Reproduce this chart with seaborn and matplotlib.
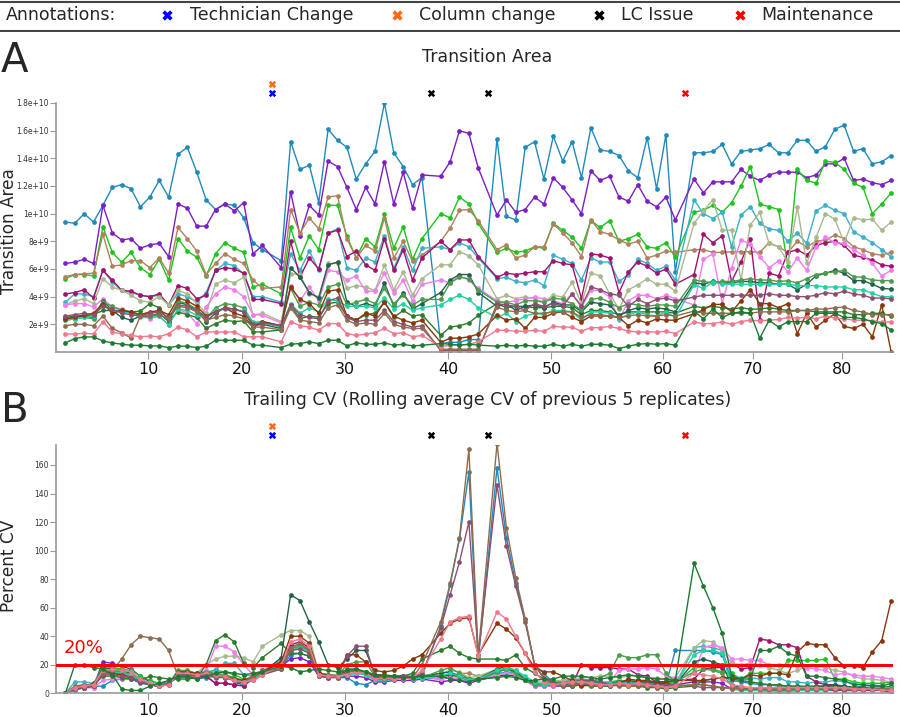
import numpy as np
import pandas as pd
import seaborn as sns
import matplotlib.pyplot as plt
import matplotlib.transforms as mtransforms

sns.set_theme(style="white")
plt.rcParams['font.family'] = ['DejaVu Sans']

# replicate slots along x (empty slots where an annotation sits)
tech_change = [23]
column_change = [23]
lc_issue = [40, 46]
maintenance = [67]

x_tick_pos = [9.8, 19.8, 30.8, 41.8, 52.8, 64.7, 74.3, 83.8]
x_tick_labels = ["10", "20", "30", "40", "50", "60", "70", "80"]
area_ticks = [2e9, 4e9, 6e9, 8e9, 1e10, 1.2e10, 1.4e10, 1.6e10, 1.8e10]
area_tick_labels = ["2e+9", "4e+9", "6e+9", "8e+9", "1e+10", "1.2e+10", "1.4e+10", "1.6e+10", "1.8e+10"]
cv_ticks = [0, 20, 40, 60, 80, 100, 120, 140, 160]

series_names = ["blue", "purple", "green", "tan", "lightblue", "magenta", "sage", "orchid",
                "darkgreen", "slate", "medgreen", "aqua", "brown", "mauve", "taupe", "pink", "bottomgreen"]
series_colors = ["#1f8bbd", "#7d1fc4", "#1cc41c", "#b0815c", "#3cb0c8", "#a3126f", "#a9b98e", "#f27cf2",
                 "#2b7d2b", "#23604d", "#4c9c4c", "#1fd3a0", "#8b3608", "#8d4f70", "#8e6c4e", "#f0788e", "#1d7a34"]

N = None
# transition area (x 1e9)
area_blue = [9.4, 9.3, 10.0, 9.4, 10.6, 11.9, 12.1, 11.8, 10.5, 11.2,
             12.4, 11.2, 14.3, 14.8, 13.0, 11.0, 10.3, 10.7, 10.6, 9.7,
             7.9, 7.4, N, 6.6, 15.2, 13.2, 13.5, 10.8, 16.1, 15.3,
             14.8, 12.5, 13.6, 14.5, 18.0, 14.4, 13.4, 12.1, 12.6, N,
             0.6, 0.7, 0.7, 0.9, 0.9, N, 15.4, 9.8, 9.55, 14.8,
             15.2, 12.5, 15.6, 13.8, 15.2, 12.6, 16.2, 14.6, 14.5, 14.2,
             13.1, 12.6, 15.5, 11.8, 15.7, 5.8, N, 14.4, 14.4, 14.5,
             15.0, 13.6, 14.5, 14.6, 14.7, 15.0, 14.4, 14.4, 15.3, 15.3,
             14.5, 14.85, 16.1, 16.4, 14.5, 14.7, 13.6, 13.75, 14.2]
area_purple = [6.4, 6.5, 6.7, 6.4, 10.6, 8.6, 8.1, 8.2, 7.5, 7.75,
               7.85, 6.9, 10.7, 10.4, 9.1, 9.1, 10.3, 10.7, 10.2, 10.8,
               7.1, 7.7, N, 6.1, 11.6, 8.4, 10.6, 9.9, 13.8, 13.4,
               11.9, 10.3, 11.9, 10.7, 13.75, 10.7, 13.0, 10.4, 12.8, N,
               12.7, 13.75, 16.0, 15.8, 13.3, N, 9.9, 11.0, 10.1, 10.3,
               11.2, 10.7, 12.6, 11.9, 11.0, 10.0, 13.1, 12.4, 12.7, 11.2,
               10.9, 12.1, 10.9, 10.5, 11.2, 9.55, N, 12.5, 11.5, 12.3,
               12.3, 12.3, 13.2, 12.7, 12.4, 12.8, 13.0, 13.0, 13.0, 12.6,
               12.8, 13.6, 13.6, 14.0, 12.4, 12.5, 12.24, 12.1, 12.4]
area_green = [5.3, 5.6, 5.6, 5.5, 9.05, 7.2, 6.5, 7.2, 6.1, 5.6,
              6.7, 5.2, 8.2, 7.3, 6.85, 5.5, 7.1, 7.9, 7.5, 7.2,
              4.7, 4.9, N, 4.2, 9.0, 6.8, 8.4, 7.4, 10.6, 10.6,
              8.35, 6.8, 8.2, 7.6, 9.96, 7.5, 9.05, 6.7, 8.2, N,
              10.0, 9.7, 11.2, 10.7, 9.3, N, 7.2, 7.5, 7.2, 7.3,
              7.6, 7.5, 9.3, 8.8, 8.3, 7.5, 9.5, 9.0, 9.5, 8.0,
              8.2, 8.5, 7.6, 7.5, 7.9, 6.84, N, 10.1, 10.25, 10.6,
              10.1, 10.8, 12.0, 13.4, 10.7, 10.5, 10.3, 6.2, 13.2, 12.4,
              12.2, 13.8, 13.7, 13.2, 12.2, 11.9, 10.0, 10.7, 11.5]
area_tan = [5.45, 5.6, 5.65, 5.7, 8.5, 6.2, 6.3, 6.6, 6.6, 6.1,
            6.8, 5.7, 9.0, 8.2, 7.3, 5.6, 6.4, 7.1, 6.7, 6.4,
            5.2, 4.6, N, 4.7, 10.3, 8.6, 9.7, 8.9, 11.2, 11.3,
            8.2, 6.8, 7.7, 7.3, 9.7, 6.8, 8.0, 6.55, 7.0, N,
            8.0, 8.95, 10.25, 10.3, 9.5, N, 7.4, 7.75, 6.8, 7.0,
            7.6, 7.6, 9.25, 8.6, 7.9, 6.9, 9.55, 8.7, 8.5, 8.1,
            7.8, 8.0, 6.8, 7.0, 7.3, 7.2, N, 7.4, 7.4, 7.2,
            7.2, 7.25, 7.25, 7.25, 7.2, 7.9, 7.6, 7.2, 8.0, 7.6,
            8.0, 8.1, 8.45, 8.2, 7.6, 7.4, 7.1, 7.0, 7.2]
area_lightblue = [3.6, 4.2, 4.2, 4.0, 5.9, 5.05, 4.45, 4.3, 4.1, 4.0,
                  4.1, 3.4, 4.2, 4.0, 3.6, 4.3, 5.9, 6.4, 6.25, 5.65,
                  4.0, 4.0, N, 3.6, 7.1, 5.9, 7.3, 5.9, 8.6, 8.9,
                  6.1, 5.9, 6.8, 6.5, 8.4, 6.05, 7.6, 5.9, 7.5, N,
                  7.6, 7.4, 7.9, 7.6, 6.8, N, 5.3, 5.4, 5.1, 5.0,
                  5.2, 4.8, 7.0, 6.7, 6.4, 5.2, 6.8, 6.5, 6.5, 5.1,
                  5.6, 6.7, 6.4, 5.9, 6.2, 5.2, N, 11.0, 10.0, 9.65,
                  10.1, 7.6, 9.9, 10.5, 9.3, 8.9, 8.8, 8.0, 8.6, 7.85,
                  10.2, 10.6, 10.25, 10.0, 8.7, 8.3, 7.9, 7.4, 6.9]
area_magenta = [4.2, 4.3, 4.5, 3.9, 5.9, 5.2, 4.45, 4.4, 4.1, 4.0,
                4.2, 3.4, 4.8, 4.6, 3.85, 4.1, 5.9, 6.1, 6.0, 5.7,
                3.8, 3.8, N, 3.5, 8.0, 5.4, 6.8, 6.0, 8.6, 8.8,
                6.9, 7.3, 6.3, 5.9, 8.2, 5.9, 7.4, 5.2, 6.8, N,
                8.0, 7.4, 8.1, 8.1, 6.9, N, 5.4, 5.7, 5.6, 5.7,
                5.8, 5.8, 6.6, 6.4, 6.3, 3.85, 7.1, 7.0, 6.8, 4.3,
                5.8, 6.5, 6.2, 5.7, 6.0, 4.9, N, 5.6, 8.5, 7.9,
                8.4, 5.1, 6.5, 8.2, 2.33, 5.7, 5.5, 7.2, 7.4, 7.0,
                7.7, 7.9, 8.0, 7.7, 7.0, 6.84, 6.65, 6.3, 6.2]
area_sage = [3.4, 3.7, 3.85, 3.5, 5.3, 4.7, 4.45, 4.1, 3.7, 3.6,
             4.0, 3.4, 4.45, 4.2, 3.5, 2.8, 4.9, 5.2, 5.0, 5.4,
             2.65, 2.8, N, 2.2, 5.65, 5.6, 4.2, 4.0, 6.4, 6.4,
             4.6, 4.8, 4.7, 4.45, 6.3, 4.5, 5.8, 4.1, 5.3, N,
             6.3, 6.3, 7.25, 6.96, 6.3, N, 3.85, 4.1, 3.85, 4.0,
             3.85, 3.6, 4.1, 3.97, 5.05, 3.5, 5.7, 5.5, 4.2, 3.1,
             4.5, 4.85, 5.3, 4.9, 4.9, 4.4, N, 9.3, 10.2, 11.0,
             8.8, 8.8, 5.2, 9.2, 10.1, 7.85, 7.6, 6.5, 10.5, 6.4,
             8.3, 10.0, 9.6, 7.9, 9.7, 9.55, 9.6, 8.8, 9.4]
area_orchid = [3.4, 3.5, 3.5, 3.25, 3.85, 3.25, 3.1, 2.9, 2.65, 2.4,
               2.6, 1.95, 3.1, 2.8, 2.05, 3.25, 4.2, 4.7, 4.5, 4.0,
               2.7, 2.65, N, 2.1, 4.8, 3.7, 4.7, 3.7, 5.9, 5.8,
               5.2, 5.5, 4.4, 4.4, 5.7, 4.25, 5.2, 3.7, 4.9, N,
               5.2, 5.0, 5.5, 5.2, 4.6, N, 3.7, 3.6, 3.7, 3.85,
               3.97, 3.85, 3.7, 3.5, 4.2, 3.25, 4.45, 4.45, 3.97, 2.3,
               3.7, 4.1, 4.1, 3.85, 4.1, 3.85, N, 3.4, 6.7, 7.1,
               3.5, 6.1, 8.1, 7.8, 6.9, 6.1, 6.6, 5.8, 6.8, 5.9,
               7.6, 8.3, 7.9, 7.85, 7.4, 7.0, 6.4, 5.5, 5.9]
area_darkgreen = [2.5, 2.6, 2.6, 2.7, 3.0, 3.0, 3.0, 2.9, 2.95, 3.5,
                  3.2, 2.3, 2.9, 2.7, 2.5, 1.7, 2.05, 2.3, 2.2, 2.25,
                  1.45, 1.45, N, 1.6, 3.4, 2.4, 2.6, 2.5, 3.5, 3.6,
                  2.6, 2.3, 2.7, 2.8, 3.6, 2.5, 3.0, 2.6, 2.7, N,
                  1.2, 1.8, 1.9, 2.1, 2.65, N, 3.5, 3.2, 3.3, 3.3,
                  3.2, 3.2, 3.3, 3.3, 3.2, 2.7, 3.0, 3.0, 2.9, 2.7,
                  2.9, 2.9, 2.9, 2.9, 2.9, 2.8, N, 3.3, 3.2, 3.3,
                  3.2, 3.1, 3.2, 3.1, 3.1, 3.2, 3.1, 3.0, 3.0, 3.0,
                  2.9, 2.9, 2.9, 2.9, 2.7, 2.7, 2.8, 2.8, 2.6]
area_slate = [2.4, 2.5, 2.6, 2.5, 3.7, 3.0, 2.5, 2.3, 2.6, 2.6,
              2.8, 2.2, 3.6, 3.4, 3.0, 2.2, 2.8, 3.2, 3.1, 2.9,
              1.9, 2.0, N, 1.7, 6.1, 5.4, 4.3, 3.9, 6.3, 6.5,
              3.6, 3.3, 3.5, 3.3, 5.0, 3.3, 4.3, 3.1, 3.5, N,
              4.3, 5.2, 5.6, 5.6, 4.3, N, 3.3, 3.5, 3.0, 3.3,
              3.4, 3.2, 3.6, 3.4, 3.4, 2.9, 3.6, 3.5, 3.4, 2.6,
              3.0, 3.2, 3.1, 3.2, 3.1, 2.9, N, 5.0, 4.9, 5.1,
              5.0, 5.0, 5.1, 5.1, 5.0, 5.0, 4.9, 4.9, 4.5, 4.9,
              5.5, 5.7, 5.9, 5.7, 5.16, 5.16, 4.9, 4.6, 4.55]
area_medgreen = [2.3, 2.4, 2.5, 2.4, 3.6, 3.3, 3.0, 2.8, 2.7, 2.8,
                 3.0, 2.4, 3.7, 3.5, 3.1, 2.4, 3.2, 3.5, 3.4, 3.2,
                 2.1, 2.2, N, 1.9, 4.6, 3.3, 3.6, 3.4, 4.7, 4.9,
                 3.4, 3.6, 3.8, 3.5, 4.6, 3.5, 4.1, 3.4, 3.8, N,
                 3.8, 5.0, 5.4, 5.3, 4.5, N, 3.6, 3.6, 3.4, 3.7,
                 3.7, 3.6, 3.9, 3.8, 3.5, 3.0, 3.8, 3.9, 3.6, 3.2,
                 3.5, 3.4, 3.3, 3.4, 3.4, 3.3, N, 5.2, 5.1, 5.0,
                 5.1, 5.1, 5.2, 5.3, 5.2, 5.2, 5.1, 5.15, 5.0, 5.3,
                 5.6, 5.7, 5.8, 5.9, 5.45, 5.4, 5.2, 5.16, 5.16]
area_aqua = [2.3, 2.4, 2.5, 2.6, 3.5, 3.0, 2.9, 2.8, 2.5, 2.5,
             2.6, 1.95, 3.1, 3.0, 2.65, 2.5, 3.0, 3.1, 3.0, 3.0,
             2.2, 2.1, N, 1.8, 3.5, 2.8, 3.2, 2.9, 3.8, 3.7,
             3.3, 3.3, 3.3, 3.2, 3.9, 3.1, 3.5, 3.0, 3.2, N,
             3.4, 3.8, 4.1, 3.8, 3.2, N, 2.5, 2.8, 2.2, 2.6,
             2.8, 2.7, 3.0, 3.0, 2.9, 2.3, 2.9, 2.9, 2.8, 2.4,
             2.7, 2.9, 2.7, 2.6, 2.9, 2.5, N, 4.85, 4.6, 5.05,
             4.9, 4.9, 4.9, 4.9, 4.9, 4.9, 4.9, 4.9, 4.8, 4.8,
             4.8, 4.7, 4.7, 4.7, 4.5, 4.5, 4.25, 4.0, 4.0]
area_brown = [2.4, 2.5, 2.7, 2.8, 3.5, 2.8, 3.0, 2.9, 2.7, 2.9,
              3.0, 2.7, 3.9, 3.7, 3.3, 2.6, 2.9, 3.2, 2.8, 2.6,
              1.8, 2.2, N, 1.9, 4.7, 3.8, 3.5, 2.8, 4.4, 4.5,
              2.6, 2.3, 2.8, 2.6, 3.6, 2.6, 2.3, 2.1, 2.3, N,
              0.7, 1.0, 1.0, 1.1, 1.3, N, 2.65, 2.3, 2.4, 1.7,
              2.5, 2.5, 2.8, 2.9, 2.5, 2.2, 2.6, 2.6, 2.6, 2.5,
              1.9, 2.3, 2.1, 2.4, 2.3, 2.3, N, 2.77, 3.05, 3.44,
              3.44, 2.9, 3.7, 4.5, 3.5, 3.5, 3.2, 3.5, 1.33, 2.8,
              1.8, 2.3, 2.77, 1.85, 1.7, 2.0, 1.1, 3.4, 0.0]
area_mauve = [2.6, 2.7, 2.8, 2.7, 3.3, 3.1, 2.8, 2.7, 2.6, 2.8,
              2.9, 2.5, 3.4, 3.3, 3.0, 2.5, 2.9, 3.2, 3.1, 2.9,
              2.0, 2.1, N, 1.9, 3.4, 2.7, 2.5, 2.4, 3.7, 3.9,
              2.5, 2.2, 2.3, 2.3, 3.0, 2.2, 2.0, 1.8, 1.9, N,
              0.1, 0.1, 0.1, 0.1, 0.1, N, 3.5, 3.4, 3.3, 3.0,
              3.5, 3.3, 3.5, 3.3, 4.2, 3.3, 4.7, 4.5, 4.2, 4.1,
              3.3, 3.8, 3.5, 3.8, 3.9, 3.7, N, 3.97, 4.1, 4.1,
              4.1, 4.1, 4.1, 4.1, 4.1, 4.2, 4.1, 4.1, 4.0, 4.0,
              4.1, 4.3, 4.2, 4.4, 4.2, 4.1, 3.9, 3.9, 3.85]
area_taupe = [1.9, 2.0, 2.0, 1.9, 2.6, 1.7, 1.4, 1.0, 2.6, 2.6,
              2.7, 2.4, 3.3, 3.2, 2.9, 2.3, 2.5, 2.7, 2.6, 2.4,
              1.8, 1.8, N, 1.6, 3.2, 2.3, 2.2, 2.1, 3.2, 3.4,
              2.3, 2.0, 2.1, 2.0, 2.8, 2.0, 1.8, 1.7, 1.7, N,
              0.2, 0.2, 0.2, 0.2, 0.2, N, 3.25, 3.0, 2.9, 3.0,
              2.8, 2.8, 2.9, 2.9, 2.9, 2.5, 2.7, 2.7, 2.6, 2.5,
              2.6, 2.7, 2.6, 2.6, 2.7, 2.6, N, 2.96, 2.8, 2.8,
              2.8, 2.8, 2.8, 2.8, 2.9, 2.9, 2.9, 2.9, 3.0, 3.0,
              3.1, 3.1, 3.2, 3.25, 3.0, 2.9, 2.7, 2.7, 2.7]
area_pink = [1.3, 1.3, 1.35, 1.3, 2.2, 1.45, 1.3, 1.2, 1.1, 1.15,
             1.1, 1.33, 1.8, 1.6, 1.1, 1.45, 1.45, 1.45, 1.45, 1.1,
             1.1, 1.1, N, 0.73, 2.2, 1.9, 1.8, 1.57, 2.05, 2.05,
             1.33, 1.2, 1.3, 1.4, 1.7, 1.33, 1.4, 1.1, 1.2, N,
             0.37, 0.5, 0.5, 0.55, 0.73, N, 1.57, 1.57, 1.5, 1.5,
             1.57, 1.5, 1.85, 1.8, 1.8, 1.5, 1.76, 1.76, 1.85, 1.7,
             1.5, 1.45, 1.45, 1.45, 1.5, 1.33, N, 2.17, 2.05, 2.05,
             2.17, 2.0, 2.2, 2.3, 2.25, 2.3, 2.35, 2.5, 2.45, 2.5,
             2.4, 2.6, 2.45, 2.4, 2.3, 2.3, 2.25, 2.17, 2.17]
area_bottomgreen = [0.66, 0.97, 1.09, 1.09, 0.8, 0.66, 0.56, 0.49, 0.49, 0.44,
                    0.44, 0.32, 0.42, 0.42, 0.32, 0.42, 0.85, 0.85, 0.85, 0.85,
                    0.49, 0.49, N, 0.32, 0.56, 0.61, 0.73, 0.61, 0.85, 0.85,
                    0.44, 0.66, 0.56, 0.56, 0.66, 0.49, 0.56, 0.44, 0.49, N,
                    0.61, 0.56, 0.5, 0.56, 0.5, N, 0.42, 0.49, 0.42, 0.49,
                    0.42, 0.42, 0.56, 0.42, 0.56, 0.42, 0.56, 0.56, 0.49, 0.25,
                    0.42, 0.56, 0.61, 0.56, 0.61, 0.49, N, 2.96, 2.4, 3.1,
                    2.5, 2.8, 2.9, 2.8, 1.0, 2.3, 1.8, 2.2, 2.2, 2.2,
                    2.8, 2.8, 2.8, 2.5, 2.5, 2.4, 2.2, 2.05, 1.6]

# trailing CV (%)
cv_blue = [0, 2, 4, 5, 5, 9, 10, 10, 7, 6,
           5, 7, 11, 11, 10, 11, 12, 12, 9, 5,
           10, 14, N, 17, 27, 28, 26, 12, 12, 11,
           11, 7, 6, 9, 10, 10, 11, 10, 12, N,
           47, 76, 108, 155, 23, N, 158, 109, 77, 52,
           20, 14, 7, 9, 9, 10, 9, 8, 7, 8,
           6, 9, 8, 7, 6, 30, N, 30, 30, 29,
           27, 9, 8, 7, 6, 6, 5, 5, 5, 4,
           5, 5, 4, 5, 4, 5, 6, 5, 3]
cv_purple = [0, 3, 4, 5, 22, 21, 19, 17, 12, 8,
             6, 7, 13, 13, 12, 12, 7, 7, 6, 8,
             11, 14, N, 19, 24, 25, 22, 12, 11, 11,
             12, 12, 11, 8, 8, 9, 9, 9, 10, N,
             8, 9, 9, 7, 9, N, 12, 13, 12, 9,
             5, 5, 5, 5, 5, 6, 6, 6, 5, 6,
             6, 6, 5, 5, 5, 6, N, 8, 8, 8,
             7, 3, 3, 3, 3, 2, 2, 2, 2, 2,
             2, 2, 2, 2, 2, 2, 2, 2, 0.5]
cv_green = [0, 4, 5, 6, 19, 18, 17, 16, 12, 9,
            7, 8, 14, 14, 13, 15, 16, 15, 13, 10,
            10, 15, N, 23, 33, 34, 31, 13, 12, 13,
            15, 16, 15, 12, 12, 12, 12, 11, 13, N,
            11, 13, 11, 9, 10, N, 13, 14, 13, 10,
            7, 6, 7, 8, 9, 9, 9, 8, 8, 9,
            8, 8, 8, 8, 8, 7, N, 18, 18, 17,
            15, 14, 10, 14, 14, 14, 14, 23, 23, 23,
            23, 24, 10, 10, 8, 7, 7, 7, 8]
cv_tan = [0, 3, 4, 4, 14, 14, 13, 12, 8, 6,
          5, 6, 15, 15, 13, 14, 13, 11, 10, 8,
          9, 13, N, 18, 32, 34, 31, 13, 12, 12,
          14, 15, 14, 10, 10, 10, 11, 10, 11, N,
          10, 12, 14, 14, 12, N, 15, 17, 15, 9,
          6, 5, 6, 6, 6, 7, 7, 7, 6, 6,
          5, 5, 5, 5, 5, 5, N, 6, 6, 5,
          4, 3, 2, 2, 2, 2, 3, 3, 3, 3,
          3, 3, 3, 3, 3, 3, 3, 3, 3]
cv_lightblue = [0, 8, 8, 7, 17, 16, 15, 13, 10, 7,
                6, 8, 14, 14, 13, 13, 17, 21, 21, 13,
                12, 15, N, 22, 31, 33, 29, 13, 12, 12,
                13, 14, 13, 9, 9, 10, 11, 10, 11, N,
                10, 11, 10, 8, 10, N, 14, 15, 14, 10,
                7, 7, 8, 9, 9, 10, 9, 8, 7, 8,
                7, 7, 6, 6, 6, 6, N, 32, 33, 32,
                30, 12, 11, 11, 10, 11, 11, 8, 8, 7,
                8, 8, 9, 8, 7, 6, 5, 5, 4]
cv_magenta = [0, 3, 4, 5, 16, 15, 14, 13, 9, 6,
              5, 7, 14, 14, 12, 12, 7, 7, 6, 5,
              13, 16, N, 20, 34, 36, 32, 14, 13, 13,
              15, 16, 15, 11, 11, 11, 12, 11, 12, N,
              12, 13, 12, 9, 10, N, 15, 17, 15, 10,
              6, 6, 6, 6, 6, 20, 18, 18, 18, 17,
              17, 13, 12, 8, 8, 9, N, 10, 17, 18,
              18, 21, 17, 18, 38, 37, 34, 34, 32, 12,
              8, 6, 6, 4, 4, 4, 3, 3, 3]
cv_sage = [0, 5, 6, 6, 17, 16, 15, 14, 10, 7,
           6, 7, 15, 15, 14, 20, 24, 26, 26, 25,
           22, 33, N, 41, 44, 44, 40, 14, 13, 13,
           14, 15, 14, 10, 10, 10, 11, 11, 12, N,
           14, 16, 15, 11, 12, N, 17, 19, 16, 10,
           8, 8, 9, 9, 10, 11, 11, 12, 12, 11,
           12, 12, 11, 11, 10, 11, N, 32, 37, 36,
           30, 21, 20, 21, 20, 18, 16, 14, 16, 19,
           19, 18, 16, 15, 12, 10, 10, 9, 8]
cv_orchid = [0, 3, 4, 4, 9, 10, 10, 11, 9, 7,
             6, 7, 14, 14, 14, 16, 33, 33, 29, 20,
             13, 16, N, 24, 30, 32, 29, 14, 12, 12,
             14, 14, 13, 10, 10, 10, 11, 11, 12, N,
             10, 11, 10, 8, 10, N, 13, 14, 13, 9,
             5, 5, 5, 6, 6, 7, 8, 8, 8, 16,
             17, 17, 18, 17, 12, 11, N, 14, 32, 34,
             32, 24, 24, 23, 23, 20, 20, 20, 19, 18,
             17, 16, 13, 14, 13, 12, 12, 11, 10]
cv_darkgreen = [0, 4, 5, 6, 12, 12, 11, 10, 9, 12,
                11, 10, 10, 10, 11, 20, 37, 41, 36, 21,
                18, 25, N, 35, 28, 28, 26, 14, 13, 12,
                17, 17, 15, 13, 13, 12, 12, 14, 24, N,
                30, 33, 28, 25, 24, N, 24, 23, 27, 18,
                14, 10, 8, 6, 5, 6, 5, 5, 5, 6,
                6, 5, 4, 4, 3, 4, N, 5, 9, 10,
                11, 10, 9, 8, 7, 6, 6, 5, 5, 5,
                5, 5, 5, 4, 4, 4, 4, 4, 5]
cv_slate = [0, 3, 4, 5, 18, 17, 16, 14, 10, 6,
            6, 7, 15, 15, 14, 14, 13, 12, 10, 8,
            10, 14, N, 25, 69, 65, 50, 36, 20, 18,
            24, 30, 30, 13, 12, 12, 12, 12, 12, N,
            14, 15, 12, 10, 10, N, 17, 19, 15, 10,
            7, 6, 6, 6, 7, 8, 8, 7, 7, 8,
            9, 8, 8, 7, 7, 6, N, 22, 24, 22,
            20, 6, 4, 3, 2, 2, 2, 2, 3, 3,
            4, 5, 6, 5, 4, 4, 3, 3, 3]
cv_medgreen = [0, 3, 5, 5, 17, 16, 15, 13, 9, 6,
               5, 7, 16, 16, 14, 15, 14, 13, 11, 9,
               11, 15, N, 20, 31, 33, 30, 13, 12, 12,
               20, 22, 22, 12, 12, 11, 11, 11, 11, N,
               16, 18, 14, 10, 9, N, 15, 17, 14, 9,
               6, 6, 7, 7, 7, 8, 8, 11, 14, 27,
               25, 25, 27, 27, 14, 8, N, 15, 17, 16,
               14, 5, 3, 3, 2, 2, 2, 2, 2, 3,
               3, 4, 4, 4, 4, 3, 3, 3, 3]
cv_aqua = [0, 3, 5, 6, 16, 15, 14, 13, 9, 6,
           5, 7, 15, 15, 14, 14, 12, 12, 10, 8,
           10, 14, N, 20, 30, 32, 29, 12, 12, 11,
           13, 14, 13, 9, 9, 10, 11, 10, 11, N,
           12, 14, 12, 9, 10, N, 16, 18, 16, 12,
           8, 6, 6, 7, 7, 8, 7, 7, 7, 7,
           6, 6, 6, 6, 6, 6, N, 27, 30, 30,
           28, 4, 2, 2, 2, 1, 1, 1, 2, 2,
           2, 2, 3, 3, 3, 3, 4, 4, 4]
cv_brown = [0, 4, 5, 7, 15, 14, 13, 11, 8, 6,
            5, 6, 15, 15, 14, 14, 13, 12, 10, 9,
            12, 15, N, 22, 40, 40, 35, 14, 12, 12,
            27, 27, 22, 16, 15, 16, 19, 24, 27, N,
            42, 49, 52, 53, 27, N, 49, 45, 39, 28,
            18, 15, 15, 12, 9, 5, 6, 5, 6, 7,
            10, 9, 9, 8, 8, 9, N, 9, 9, 10,
            11, 11, 10, 13, 12, 14, 14, 13, 29, 35,
            34, 34, 25, 19, 19, 18, 29, 37, 65]
cv_mauve = [0, 3, 4, 5, 13, 13, 12, 11, 8, 6,
            5, 7, 13, 13, 12, 13, 11, 11, 9, 7,
            9, 13, N, 17, 30, 31, 28, 12, 11, 12,
            26, 33, 33, 12, 11, 10, 12, 11, 14, N,
            46, 69, 92, 120, 26, N, 146, 103, 75, 50,
            20, 11, 7, 7, 8, 9, 9, 8, 6, 6,
            6, 7, 7, 6, 6, 6, N, 5, 4, 4,
            4, 4, 3, 3, 3, 3, 3, 3, 3, 3,
            3, 3, 3, 2, 2, 2, 3, 3, 2]
cv_taupe = [0, 5, 6, 6, 14, 16, 24, 34, 40, 39,
            38, 30, 12, 12, 12, 13, 12, 11, 9, 8,
            12, 16, N, 17, 32, 35, 30, 13, 12, 11,
            15, 16, 14, 10, 10, 10, 11, 11, 20, N,
            50, 77, 109, 171, 27, N, 175, 116, 81, 52,
            20, 10, 6, 5, 6, 7, 6, 5, 6, 5,
            5, 5, 5, 4, 4, 5, N, 6, 6, 5,
            4, 4, 3, 3, 3, 3, 3, 3, 3, 3,
            3, 3, 3, 3, 3, 3, 3, 3, 3]
cv_pink = [0, 4, 5, 6, 16, 17, 16, 15, 10, 7,
           5, 6, 14, 14, 13, 14, 13, 12, 9, 8,
           9, 13, N, 20, 36, 38, 33, 13, 12, 12,
           13, 15, 14, 10, 11, 10, 10, 11, 16, N,
           38, 50, 53, 54, 26, N, 57, 52, 40, 28,
           15, 8, 6, 7, 8, 8, 7, 6, 6, 7,
           6, 7, 6, 5, 4, 5, N, 14, 13, 12,
           10, 6, 5, 4, 4, 4, 4, 4, 4, 4,
           4, 4, 4, 4, 3, 3, 3, 2, 2]
cv_bottomgreen = [0, 20, 20, 18, 17, 13, 3, 2, 2, 5,
                  7, 9, 12, 12, 10, 12, 14, 15, 14, 13,
                  14, 15, N, 19, 18, 15, 16, 17, 16, 15,
                  16, 17, 15, 13, 12, 12, 11, 11, 12, N,
                  12, 10, 9, 8, 10, N, 11, 12, 11, 9,
                  9, 10, 10, 12, 12, 12, 11, 10, 11, 12,
                  13, 12, 11, 10, 10, 9, N, 91, 75, 60,
                  42, 12, 10, 10, 30, 30, 33, 28, 26, 12,
                  12, 11, 10, 9, 6, 6, 5, 5, 7]

area = dict(zip(series_names, [area_blue, area_purple, area_green, area_tan, area_lightblue,
                               area_magenta, area_sage, area_orchid, area_darkgreen, area_slate,
                               area_medgreen, area_aqua, area_brown, area_mauve, area_taupe,
                               area_pink, area_bottomgreen]))
cv = dict(zip(series_names, [cv_blue, cv_purple, cv_green, cv_tan, cv_lightblue,
                             cv_magenta, cv_sage, cv_orchid, cv_darkgreen, cv_slate,
                             cv_medgreen, cv_aqua, cv_brown, cv_mauve, cv_taupe,
                             cv_pink, cv_bottomgreen]))


def long_table(values, scale=1.0):
    rows = []
    for name in series_names:
        for i, v in enumerate(values[name]):
            if v is not None:
                rows.append((i + 1, v * scale, name))
    return pd.DataFrame(rows, columns=["slot", "value", "series"])


df_area = long_table(area, 1e9)
df_cv = long_table(cv)

fig = plt.figure(figsize=(9, 7.17), dpi=100)
ax_a = fig.add_axes([56 / 900, 1 - 352 / 717, 837 / 900, 249 / 717])
ax_b = fig.add_axes([56 / 900, 1 - 693.3 / 717, 837 / 900, 248.3 / 717])

line_kw = dict(hue="series", hue_order=series_names, palette=series_colors, marker="o",
               markersize=3.4, mew=0, linewidth=1.0, estimator=None, sort=True, legend=False)
sns.lineplot(data=df_area, x="slot", y="value", ax=ax_a, **line_kw)
sns.lineplot(data=df_cv, x="slot", y="value", ax=ax_b, **line_kw)

ax_a.set_ylim(0, 1.8e10)
ax_a.set_yticks(area_ticks)
ax_a.set_yticklabels(area_tick_labels)
ax_b.set_ylim(0, 174)
ax_b.set_yticks(cv_ticks)
ax_b.set_yticklabels([str(t) for t in cv_ticks])

for ax in (ax_a, ax_b):
    ax.set_xlim(0, 89.2)
    ax.set_xticks(x_tick_pos)
    ax.set_xticklabels(x_tick_labels)
    ax.set_xlabel("")
    ax.set_ylabel("")
    for s in ("top", "right"):
        ax.spines[s].set_visible(False)
    for s in ("left", "bottom"):
        ax.spines[s].set_color("#9a9a9a")
        ax.spines[s].set_linewidth(1.2)
    ax.tick_params(axis="y", length=4, width=0.8, color="#9a9a9a", labelsize=5.5,
                   labelcolor="#333333", pad=1, left=True)
    ax.tick_params(axis="x", length=5, width=0.8, color="#9a9a9a", labelsize=11.5,
                   labelcolor="#111111", pad=2, bottom=True)
    ax.grid(False)

    # annotation crosses above each panel
    trans = mtransforms.blended_transform_factory(ax.transData, ax.transAxes)
    ax.scatter(column_change, [1.076] * len(column_change), marker="X", s=28, color="#ff6a10",
               transform=trans, clip_on=False, linewidths=0)
    ax.scatter(tech_change, [1.04] * len(tech_change), marker="X", s=28, color="#0000ff",
               transform=trans, clip_on=False, linewidths=0)
    ax.scatter(lc_issue, [1.04] * len(lc_issue), marker="X", s=28, color="black",
               transform=trans, clip_on=False, linewidths=0)
    ax.scatter(maintenance, [1.04] * len(maintenance), marker="X", s=28, color="#ff0000",
               transform=trans, clip_on=False, linewidths=0)

# 20% threshold
ax_b.axhline(20, color="red", linewidth=2.2, zorder=5)
ax_b.text(0.8, 28.3, "20%", color="red", fontsize=13, va="baseline", ha="left")

# titles, axis labels, panel letters
fig.text(487 / 900, 1 - 57 / 717, "Transition Area", ha="center", va="center", fontsize=12.5)
fig.text(488 / 900, 1 - 400 / 717, "Trailing CV (Rolling average CV of previous 5 replicates)",
         ha="center", va="center", fontsize=12.5)
fig.text(9 / 900, 1 - 231 / 717, "Transition Area", rotation=90, ha="center", va="center", fontsize=12.2)
fig.text(9 / 900, 1 - 566 / 717, "Percent CV", rotation=90, ha="center", va="center", fontsize=12.2)
fig.text(1 / 900, 1 - 72 / 717, "A", fontsize=29, va="baseline", ha="left")
fig.text(1 / 900, 1 - 422 / 717, "B", fontsize=29, va="baseline", ha="left")

# annotation key strip at the top
ax_h = fig.add_axes([0, 1 - 32 / 717, 1, 32 / 717])
ax_h.set_xlim(0, 900)
ax_h.set_ylim(32, 0)
ax_h.axis("off")
ax_h.axhline(1.5, color="#444444", linewidth=1.5)
ax_h.axhline(30.5, color="#444444", linewidth=1.5)
ax_h.text(6, 15, "Annotations:", va="center", ha="left", fontsize=12.5)
key_items = [("Technician Change", "#0000ff", 167, 190),
             ("Column change", "#ff6a10", 397, 419),
             ("LC Issue", "black", 599, 621),
             ("Maintenance", "#ff0000", 740, 761)]
for label, color, mx, tx in key_items:
    ax_h.scatter([mx], [15], marker="X", s=55, color=color, linewidths=0)
    ax_h.text(tx, 15, label, va="center", ha="left", fontsize=12.5)

fig.savefig("out.png", dpi=100)
